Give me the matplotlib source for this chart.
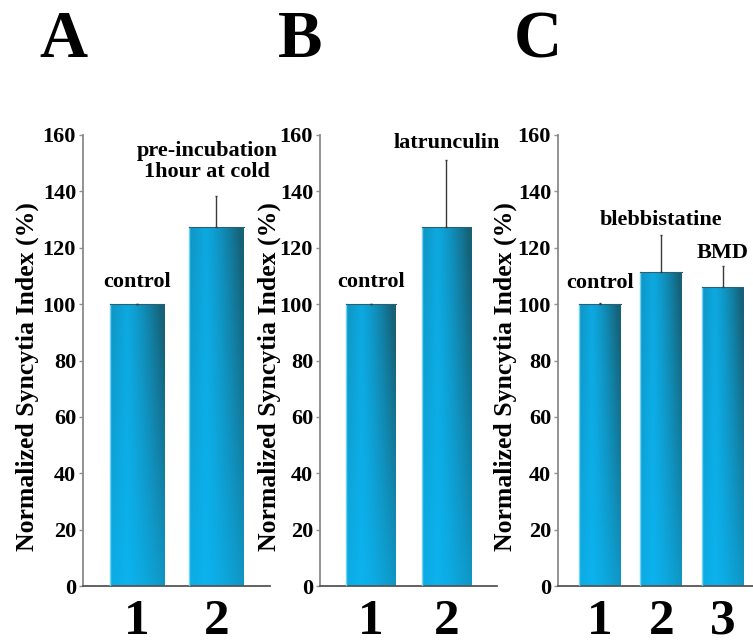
import numpy as np
import matplotlib
matplotlib.use("Agg")
import matplotlib.pyplot as plt

# ---- data ----
panel_letters = ["A", "B", "C"]
a_cats = ["1", "2"]
a_vals = [100, 127.5]
a_err = [0, 11]
b_cats = ["1", "2"]
b_vals = [100, 127.5]
b_err = [0, 23.5]
c_cats = ["1", "2", "3"]
c_vals = [100, 111.5, 106]
c_err = [0.3, 13, 7.5]
a_labels = ["control", "pre-incubation\n1hour at cold"]
b_labels = ["control", "latrunculin"]
c_labels = ["control", "blebbistatine", "BMD"]
y_ticks = [0, 20, 40, 60, 80, 100, 120, 140, 160]
y_label = "Normalized Syncytia Index (%)"

SERIF = ["Liberation Serif", "DejaVu Serif"]
W, H = 753, 644
fig = plt.figure(figsize=(W / 100, H / 100), dpi=100)
fig.patch.set_facecolor("white")

light = np.array([0x0c, 0xb2, 0xee]) / 255.0
dark = np.array([0x16, 0x62, 0x78]) / 255.0


def gradient_image(ny=120, nx=60):
    xs = np.linspace(0, 1, nx)
    ys = np.linspace(0, 1, ny)  # 0 bottom, 1 top
    X, Y = np.meshgrid(xs, ys)
    hx = np.where(X < 0.3, 0.25 * (0.3 - X) / 0.3, ((X - 0.3) / 0.7) ** 1.3)
    w = hx * (0.35 + 0.65 * Y) + 0.12 * Y
    w = np.clip(w, 0, 1)
    img = light[None, None, :] * (1 - w[..., None]) + dark[None, None, :] * w[..., None]
    return img


def panel(rect, cats, vals, errs, labels, label_pos, xlim, width, ylabel_x, letter, letter_x):
    ax = fig.add_axes(rect)
    x = np.arange(1, len(cats) + 1)
    bars = ax.bar(x, vals, width=width, color="none", edgecolor="none", zorder=2)
    for b in bars:
        bx, by = b.get_x(), b.get_y()
        bw, bh = b.get_width(), b.get_height()
        im = ax.imshow(gradient_image(), extent=[bx, bx + bw, by, by + bh],
                       origin="lower", aspect="auto", zorder=2, interpolation="bilinear")
        im.set_clip_path(b)
        ax.plot([bx, bx], [by, by + bh], color="#6fd4f4", lw=1.0, zorder=3)
        ax.plot([bx, bx + bw], [by + bh, by + bh], color="#2d5f6e", lw=0.8, zorder=3)
    ax.errorbar(x, vals, yerr=[np.zeros(len(errs)), errs], fmt="none",
                ecolor="#3a3a3a", elinewidth=1.0, capsize=0.8, capthick=1.0, zorder=4)
    ax.set_xlim(*xlim)
    ax.set_ylim(0, 160)
    ax.set_yticks(y_ticks)
    ax.set_yticklabels([str(t) for t in y_ticks], fontfamily=SERIF,
                       fontweight="bold", fontsize=16)
    ax.set_xticks(x)
    ax.set_xticklabels(cats, fontfamily=SERIF, fontweight="bold", fontsize=37)
    ax.tick_params(axis="x", length=0, pad=9)
    ax.tick_params(axis="y", length=3, width=1, color="#909090", pad=2)
    for s in ["top", "right"]:
        ax.spines[s].set_visible(False)
    ax.spines["left"].set_color("#8a8a8a")
    ax.spines["left"].set_linewidth(1.3)
    ax.spines["bottom"].set_color("#555555")
    ax.spines["bottom"].set_linewidth(1.3)
    ax.set_facecolor("none")
    for (lx, ly), t in zip(label_pos, labels):
        ax.text(lx, ly, t, ha="center", va="center", fontfamily=SERIF,
                fontweight="bold", fontsize=16, linespacing=1.05, multialignment="center")
    fig.text(ylabel_x / W, 1 - 377 / H, y_label, rotation=90, ha="center", va="center",
             fontfamily=SERIF, fontweight="bold", fontsize=18.5)
    fig.text(letter_x / W, 1 - 57 / H, letter, ha="center", va="baseline",
             fontfamily=SERIF, fontweight="bold", fontsize=48)
    return ax


bottom = (H - 586) / H
height = (586 - 135) / H

panel([83 / W, bottom, (270 - 83) / W, height], a_cats, a_vals, a_err, a_labels,
      [(1, 108), (1.88, 150.5)], (0.321, 2.673), 0.68, 27, panel_letters[0], 63)
panel([320 / W, bottom, (497 - 320) / W, height], b_cats, b_vals, b_err, b_labels,
      [(1, 108), (2, 157)], (0.325, 2.669), 0.66, 269, panel_letters[1], 300)
panel([558 / W, bottom, (753 - 558) / W, height], c_cats, c_vals, c_err, c_labels,
      [(1, 107.5), (2, 130), (3, 118)], (0.314, 3.498), 0.685, 505, panel_letters[2], 538)

fig.savefig("out.png", dpi=100, facecolor="white")
